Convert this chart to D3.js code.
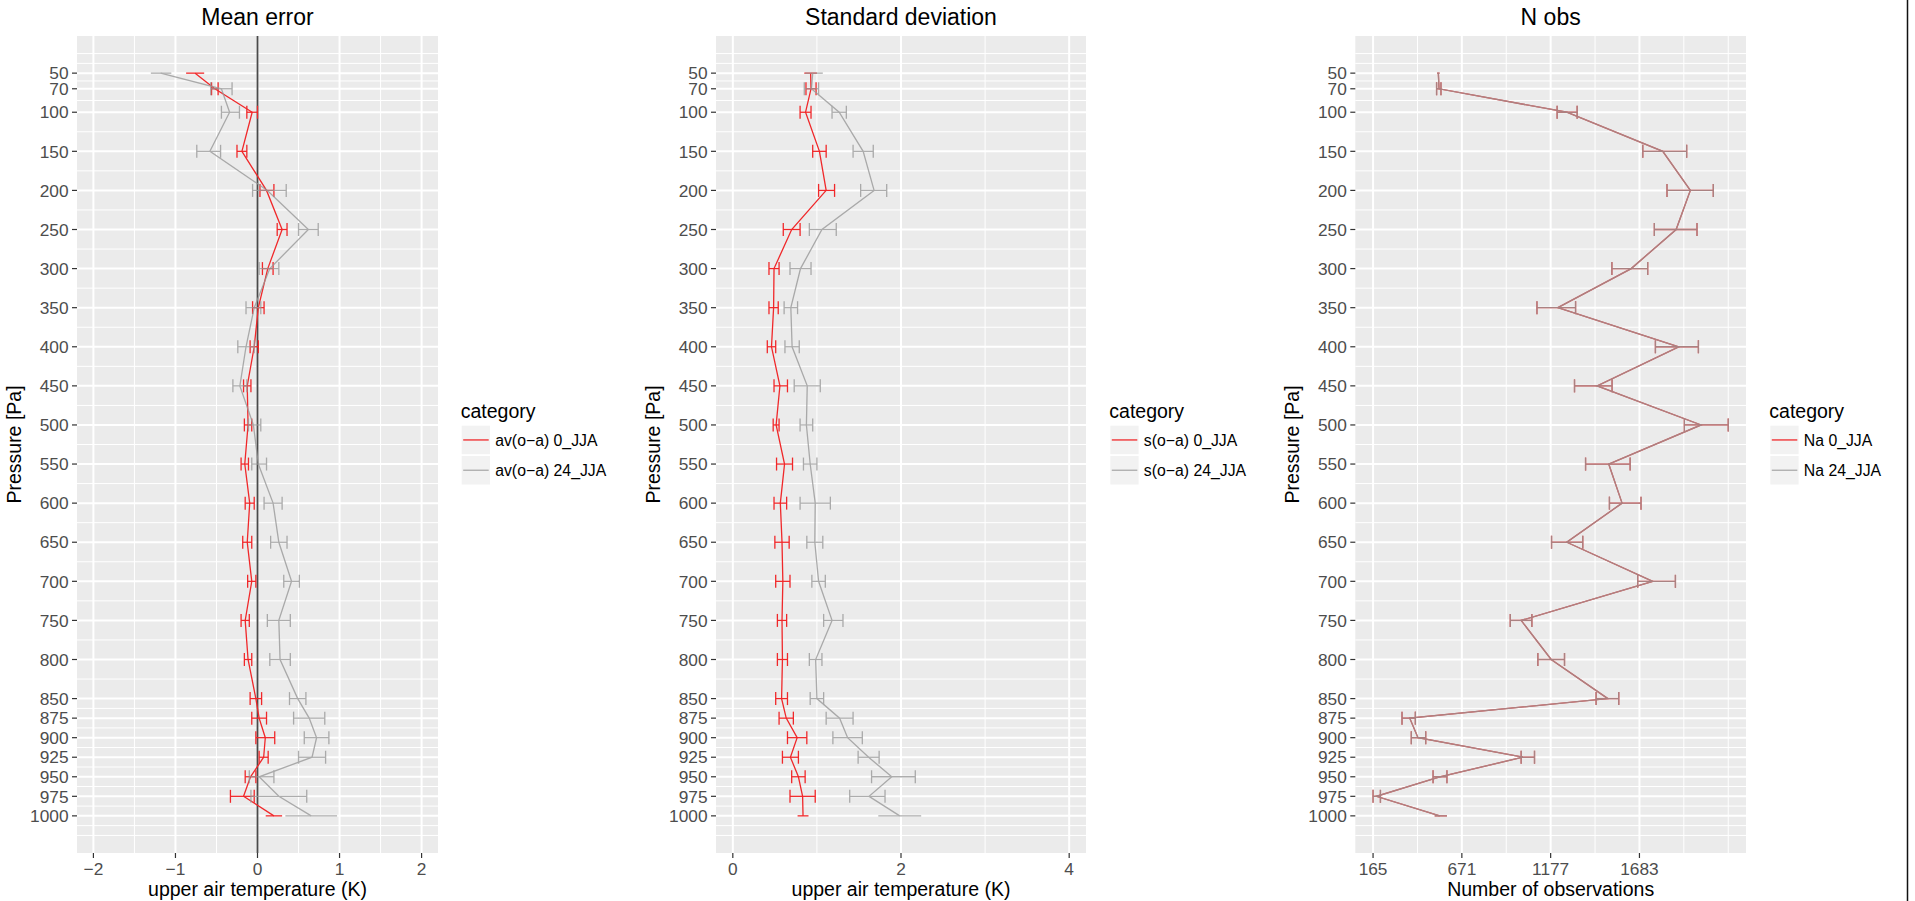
<!DOCTYPE html>
<html><head><meta charset="utf-8">
<script src="https://cdn.jsdelivr.net/npm/d3@7"></script>
<style>body{margin:0;background:#fff}svg{display:block}text{font-family:"Liberation Sans",Arial,Helvetica,sans-serif}</style>
</head><body><svg id="c" width="1915" height="901"></svg>
<script>
// ---------- data ----------
const levels=[50,70,100,150,200,250,300,350,400,450,500,550,600,650,700,750,800,850,875,900,925,950,975,1000];

const me0   =[-0.76,-0.52,-0.065,-0.19,0.11,0.30,0.125,0.01,-0.04,-0.125,-0.115,-0.155,-0.095,-0.125,-0.07,-0.15,-0.115,-0.02,0.02,0.095,0.075,-0.085,-0.17,0.20];
const me0Lo =[-0.87,-0.56,-0.13,-0.25,0.03,0.24,0.06,-0.06,-0.09,-0.17,-0.16,-0.20,-0.15,-0.18,-0.12,-0.20,-0.16,-0.09,-0.07,-0.02,0.02,-0.15,-0.33,0.10];
const me0Hi =[-0.65,-0.48,0.00,-0.13,0.20,0.36,0.19,0.08,0.01,-0.08,-0.07,-0.11,-0.04,-0.07,-0.02,-0.10,-0.07,0.05,0.11,0.21,0.13,-0.02,-0.04,0.30];
const me24  =[-1.18,-0.44,-0.34,-0.58,0.12,0.62,0.15,-0.04,-0.14,-0.215,-0.05,0.01,0.19,0.26,0.415,0.26,0.275,0.49,0.63,0.72,0.665,0.02,0.26,0.655];
const me24Lo=[-1.30,-0.57,-0.44,-0.74,-0.06,0.50,0.02,-0.14,-0.24,-0.30,-0.11,-0.07,0.08,0.16,0.32,0.12,0.15,0.39,0.44,0.57,0.50,-0.10,-0.08,0.34];
const me24Hi=[-1.05,-0.31,-0.22,-0.45,0.35,0.74,0.26,0.04,-0.04,-0.13,0.04,0.11,0.30,0.36,0.51,0.40,0.40,0.59,0.82,0.87,0.83,0.20,0.60,0.97];

const sd0   =[0.925,0.93,0.865,1.03,1.11,0.70,0.49,0.485,0.46,0.56,0.515,0.615,0.565,0.585,0.595,0.585,0.59,0.58,0.635,0.765,0.685,0.78,0.83,0.835];
const sd0Lo =[0.85,0.87,0.80,0.95,1.02,0.60,0.43,0.43,0.41,0.49,0.48,0.52,0.49,0.50,0.51,0.53,0.53,0.51,0.55,0.65,0.59,0.70,0.68,0.77];
const sd0Hi =[1.00,0.99,0.93,1.11,1.21,0.80,0.55,0.54,0.51,0.65,0.55,0.71,0.64,0.67,0.68,0.64,0.65,0.65,0.72,0.88,0.78,0.86,0.98,0.90];
const sd24  =[0.95,0.935,1.265,1.55,1.68,1.06,0.805,0.69,0.705,0.885,0.875,0.92,0.98,0.975,1.02,1.18,0.985,1.0,1.27,1.365,1.615,1.89,1.62,1.985];
const sd24Lo=[0.86,0.85,1.18,1.43,1.52,0.91,0.68,0.61,0.62,0.73,0.80,0.84,0.80,0.88,0.94,1.08,0.91,0.92,1.11,1.19,1.49,1.65,1.39,1.73];
const sd24Hi=[1.07,1.02,1.35,1.67,1.83,1.23,0.93,0.77,0.79,1.04,0.95,1.00,1.16,1.07,1.10,1.31,1.06,1.08,1.43,1.54,1.74,2.17,1.81,2.24];

const nobs0   =[537,541,1269,1816,1973,1892,1636,1218,1907,1442,2034,1508,1584,1269,1759,1009,1180,1503,374,421,1019,545,184,545];
const nobs0Lo =[530,527,1214,1702,1840,1768,1526,1099,1774,1313,1939,1376,1512,1182,1673,947,1104,1436,330,383,1009,507,165,516];
const nobs0Hi =[544,552,1328,1952,2104,2011,1730,1319,2019,1527,2189,1630,1692,1360,1888,1070,1256,1565,406,465,1085,586,207,586];
const nobs24  =[537,541,1269,1816,1973,1892,1636,1218,1907,1442,2034,1508,1584,1269,1759,1009,1180,1503,374,421,1019,545,184,545];
const nobs24Lo=[530,527,1214,1702,1840,1768,1526,1099,1774,1313,1939,1376,1512,1182,1673,947,1104,1436,330,383,1009,507,165,516];
const nobs24Hi=[544,552,1328,1952,2104,2011,1730,1319,2019,1527,2189,1630,1692,1360,1888,1070,1256,1565,406,465,1085,586,207,586];

const meTicks=[-2,-1,0,1,2];
const sdTicks=[0,2,4];
const nTicks=[165,671,1177,1683];

const titles=['Mean error','Standard deviation','N obs'];
const xTitles=['upper air temperature (K)','upper air temperature (K)','Number of observations'];
const legendTitle='category';
const legendLabels=[['av(o\u2212a) 0_JJA','av(o\u2212a) 24_JJA'],['s(o\u2212a) 0_JJA','s(o\u2212a) 24_JJA'],['Na 0_JJA','Na 24_JJA']];
const yTitle='Pressure [Pa]';

// ---------- layout ----------
const RED='#f0282a', GREY='#999999', GREY_OP=0.8;
const plotTop=36, plotBottom=853;
const svg=d3.select('#c');
const Y=d3.scaleLinear().domain([2.5,1047.5]).range([plotTop,plotBottom]);
const yMinor=[25,37.5];
for(let i=0;i<levels.length-1;i++) yMinor.push((levels[i]+levels[i+1])/2);
yMinor.push(1012.5,1025);

const panels=[
 {x0:77,x1:438,dom:[-2.2,2.2],ticks:meTicks,minor:[-1.5,-0.5,0.5,1.5],fmt:d=>d<0?'\u2212'+(-d):String(d),
  s:[[me0,me0Lo,me0Hi],[me24,me24Lo,me24Hi]],legX:460.7,off:0,vline:0},
 {x0:716,x1:1086,dom:[-0.2,4.2],ticks:sdTicks,minor:[1,3],fmt:d=>String(d),
  s:[[sd0,sd0Lo,sd0Hi],[sd24,sd24Lo,sd24Hi]],legX:1109.3,off:639},
 {x0:1355.3,x1:1746,dom:[63.8,2290.2],ticks:nTicks,minor:[418,924,1430,1936,2189],fmt:d=>String(d),
  s:[[nobs0,nobs0Lo,nobs0Hi],[nobs24,nobs24Lo,nobs24Hi]],legX:1769.3,off:1278}
];

const capHalf=8.3;
panels.forEach((p,pi)=>{
  const X=d3.scaleLinear().domain(p.dom).range([p.x0,p.x1]);
  const g=svg.append('g');
  g.append('rect').attr('x',p.x0).attr('y',plotTop).attr('width',p.x1-p.x0).attr('height',plotBottom-plotTop).attr('fill','#ebebeb');
  yMinor.forEach(v=>g.append('line').attr('x1',p.x0).attr('x2',p.x1).attr('y1',Y(v)).attr('y2',Y(v)).attr('stroke','#fff').attr('stroke-width',1));
  p.minor.forEach(v=>g.append('line').attr('y1',plotTop).attr('y2',plotBottom).attr('x1',X(v)).attr('x2',X(v)).attr('stroke','#fff').attr('stroke-width',1));
  levels.forEach(v=>g.append('line').attr('x1',p.x0).attr('x2',p.x1).attr('y1',Y(v)).attr('y2',Y(v)).attr('stroke','#fff').attr('stroke-width',2));
  p.ticks.forEach(v=>g.append('line').attr('y1',plotTop).attr('y2',plotBottom).attr('x1',X(v)).attr('x2',X(v)).attr('stroke','#fff').attr('stroke-width',2));
  if(p.vline!==undefined){
    g.append('line').attr('y1',plotTop).attr('y2',plotBottom).attr('x1',X(p.vline)).attr('x2',X(p.vline)).attr('stroke','#4a4a4a').attr('stroke-width',1.8);
  }
  p.s.forEach((ser,si)=>{
    const col=si===0?RED:GREY, op=si===0?1:GREY_OP;
    const sg=g.append('g').attr('opacity',op);
    const [c,lo,hi]=ser;
    const line=d3.line().x((d,i)=>X(c[i])).y((d,i)=>Y(levels[i]));
    sg.append('path').attr('d',line(levels)).attr('fill','none').attr('stroke',col).attr('stroke-width',1.3);
    levels.forEach((lv,i)=>{
      sg.append('line').attr('x1',X(lo[i])).attr('x2',X(hi[i])).attr('y1',Y(lv)).attr('y2',Y(lv)).attr('stroke',col).attr('stroke-width',1.3);
      if(lv-capHalf<50||lv+capHalf>1000) return; // caps censored outside the y limits
      const ya=Y(lv-capHalf), yb=Y(lv+capHalf);
      [lo[i],hi[i]].forEach(v=>sg.append('line').attr('x1',X(v)).attr('x2',X(v)).attr('y1',ya).attr('y2',yb).attr('stroke',col).attr('stroke-width',1.3));
    });
  });
  levels.forEach(v=>{
    g.append('line').attr('x1',p.x0-5).attr('x2',p.x0).attr('y1',Y(v)).attr('y2',Y(v)).attr('stroke','#333').attr('stroke-width',1.2);
    g.append('text').attr('x',p.x0-8.5).attr('y',Y(v)+6.2).attr('text-anchor','end').attr('font-size',17.3).attr('fill','#4d4d4d').text(v);
  });
  p.ticks.forEach(v=>{
    g.append('line').attr('y1',plotBottom).attr('y2',plotBottom+5).attr('x1',X(v)).attr('x2',X(v)).attr('stroke','#333').attr('stroke-width',1.2);
    g.append('text').attr('x',X(v)).attr('y',875).attr('text-anchor','middle').attr('font-size',17.3).attr('fill','#4d4d4d').text(p.fmt(v));
  });
  const cx=(p.x0+p.x1)/2;
  g.append('text').attr('x',cx).attr('y',25).attr('text-anchor','middle').attr('font-size',23).attr('fill','#000').text(titles[pi]);
  g.append('text').attr('x',cx).attr('y',896).attr('text-anchor','middle').attr('font-size',19.5).attr('fill','#000').text(xTitles[pi]);
  g.append('text').attr('transform',`translate(${20.5+p.off},${(plotTop+plotBottom)/2}) rotate(-90)`).attr('text-anchor','middle').attr('font-size',19.5).attr('fill','#000').text(yTitle);
  const lx=p.legX;
  g.append('text').attr('x',lx).attr('y',418).attr('font-size',19.5).attr('fill','#000').text(legendTitle);
  [[425.7,RED,1],[456,GREY,GREY_OP]].forEach((k,ki)=>{
    g.append('rect').attr('x',lx+1).attr('y',k[0]).attr('width',28.3).attr('height',28.5).attr('fill','#f2f2f2');
    g.append('line').attr('x1',lx+2.5).attr('x2',lx+28).attr('y1',k[0]+14.25).attr('y2',k[0]+14.25).attr('stroke',k[1]).attr('stroke-opacity',k[2]).attr('stroke-width',1.3);
    g.append('text').attr('x',lx+34.5).attr('y',k[0]+14.25+5.7).attr('font-size',15.8).attr('fill','#000').text(legendLabels[pi][ki]);
  });
});
// right frame edge seen in the reference
svg.append('line').attr('x1',1907.5).attr('x2',1907.5).attr('y1',0).attr('y2',901).attr('stroke','#111').attr('stroke-width',1.5);
</script></body></html>
